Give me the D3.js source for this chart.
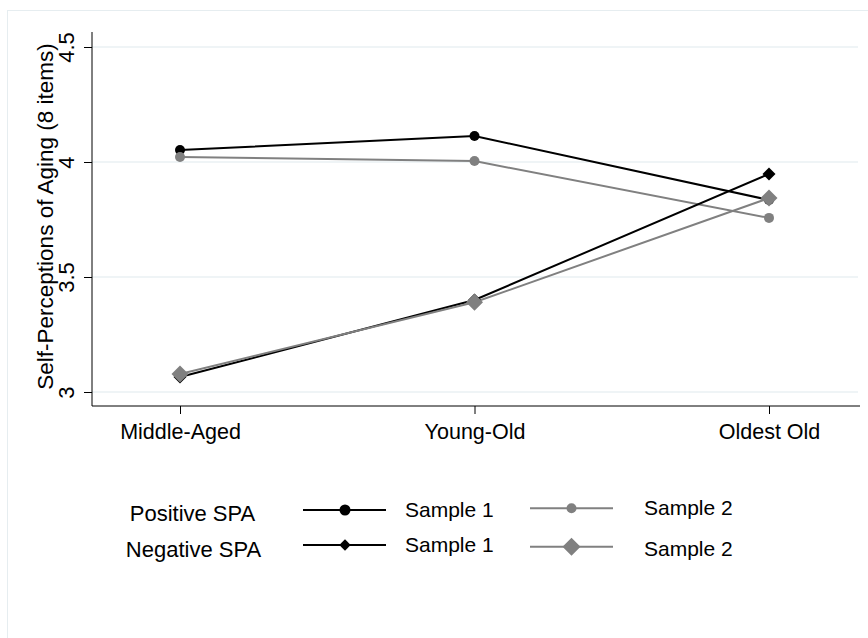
<!DOCTYPE html>
<html><head><meta charset="utf-8">
<script src="https://cdn.jsdelivr.net/npm/d3@7"></script>
<style>body{margin:0;background:#fff}svg{display:block;font-family:"Liberation Sans",Arial,sans-serif}</style>
</head><body><svg id="c" width="868" height="638"></svg>
<script>
const categories = ["Middle-Aged", "Young-Old", "Oldest Old"];
const yTicks = [3, 3.5, 4, 4.5];
const posS1 = [4.052, 4.113, 3.835];
const posS2 = [4.022, 4.004, 3.757];
const negS1 = [3.065, 3.400, 3.948];
const negS2 = [3.078, 3.390, 3.843];
const seriesNames = ["Positive SPA Sample 1", "Positive SPA Sample 2", "Negative SPA Sample 1", "Negative SPA Sample 2"];

const svg = d3.select("#c");
const BLACK = "#000", GRAY = "#808080";
const series = [
  {name: seriesNames[0], values: posS1, color: BLACK, shape: "circle", size: 5},
  {name: seriesNames[1], values: posS2, color: GRAY, shape: "circle", size: 5},
  {name: seriesNames[2], values: negS1, color: BLACK, shape: "diamond", size: 6.5},
  {name: seriesNames[3], values: negS2, color: GRAY, shape: "diamond", size: 8.5}
];

svg.append("rect").attr("x", 7.5).attr("y", 10.5).attr("width", 880).attr("height", 640)
  .attr("fill", "none").attr("stroke", "#e6edf0");

const y = d3.scaleLinear().domain([3, 4.5]).range([392, 47]);
const x = d3.scalePoint().domain(categories).range([180, 769]);

const plotL = 92, plotR = 860, plotB = 406, plotT = 32;

// gridlines
svg.append("g").selectAll("line").data(yTicks).join("line")
  .attr("x1", plotL).attr("x2", plotR - 2)
  .attr("y1", d => y(d)).attr("y2", d => y(d))
  .attr("stroke", "#eaf1f3").attr("stroke-width", 1.5);

// y axis
const yAxis = svg.append("g").attr("transform", `translate(${plotL},0)`)
  .call(d3.axisLeft(y).tickValues(yTicks).tickFormat(d3.format("")).tickSize(8).tickSizeOuter(0));
yAxis.select(".domain").remove();
yAxis.selectAll(".tick line").attr("stroke", "#000");
yAxis.selectAll(".tick text")
  .attr("x", null).attr("dy", null)
  .attr("transform", "translate(-18,0) rotate(-90)")
  .attr("y", 0).attr("text-anchor", "middle")
  .attr("font-size", 22).attr("fill", "#000")
  .attr("font-family", "Liberation Sans, Arial, sans-serif");
svg.append("line").attr("x1", plotL).attr("x2", plotL).attr("y1", plotT).attr("y2", plotB)
  .attr("stroke", "#000").attr("stroke-width", 1);

svg.append("text").attr("transform", "translate(53,216.5) rotate(-90)")
  .attr("text-anchor", "middle").attr("font-size", 22.5).attr("fill", "#000")
  .text("Self-Perceptions of Aging (8 items)");

// x axis
const xAxis = svg.append("g").attr("transform", `translate(0,${plotB})`)
  .call(d3.axisBottom(x).tickSize(8).tickSizeOuter(0));
xAxis.select(".domain").remove();
svg.append("line").attr("x1", plotL).attr("x2", plotR).attr("y1", plotB).attr("y2", plotB)
  .attr("stroke", "#000").attr("stroke-width", 1);
xAxis.selectAll(".tick line").attr("stroke", "#000");
xAxis.selectAll(".tick text").attr("font-size", 21.5).attr("fill", "#000").attr("y", 33).attr("dy", 0)
  .attr("font-family", "Liberation Sans, Arial, sans-serif");

function marker(sel, shape, size, color) {
  if (shape === "circle") {
    sel.append("circle").attr("r", size).attr("fill", color);
  } else {
    sel.append("path").attr("d", `M0,${-size}L${size},0L0,${size}L${-size},0Z`).attr("fill", color);
  }
}

const line = d3.line().x((d, i) => x(categories[i])).y(d => y(d));
series.forEach(s => {
  svg.append("path").datum(s.values).attr("d", line)
    .attr("fill", "none").attr("stroke", s.color).attr("stroke-width", 2);
});
series.forEach(s => {
  s.values.forEach((v, i) => {
    const g = svg.append("g").attr("transform", `translate(${x(categories[i])},${y(v)})`);
    marker(g, s.shape, s.size, s.color);
  });
});

// legend
const leg = svg.append("g");
const rows = [
  {label: "Positive SPA", lx: 192.5, base: 521, lines: [510, 508.3], texts: [516.7, 514.5], s: [series[0], series[1]]},
  {label: "Negative SPA", lx: 193.5, base: 557, lines: [545, 546.7], texts: [551.7, 556], s: [series[2], series[3]]}
];
rows.forEach((r) => {
  leg.append("text").attr("x", r.lx).attr("y", r.base)
    .attr("text-anchor", "middle").attr("font-size", 22).text(r.label);
  r.s.forEach((s, j) => {
    const x0 = j === 0 ? 303 : 530, ly = r.lines[j];
    leg.append("line").attr("x1", x0).attr("x2", x0 + 83).attr("y1", ly).attr("y2", ly)
      .attr("stroke", s.color).attr("stroke-width", 2);
    const g = leg.append("g").attr("transform", `translate(${x0 + (j === 0 ? 42 : 41.5)},${ly})`);
    const sz = s.shape === "circle" ? (j === 0 ? 5.5 : 5) : (j === 0 ? 5.7 : 9);
    marker(g, s.shape, sz, s.color);
    leg.append("text").attr("x", j === 0 ? 405 : 644).attr("y", r.texts[j])
      .attr("font-size", 21).text("Sample " + (j + 1));
  });
});
</script></body></html>
